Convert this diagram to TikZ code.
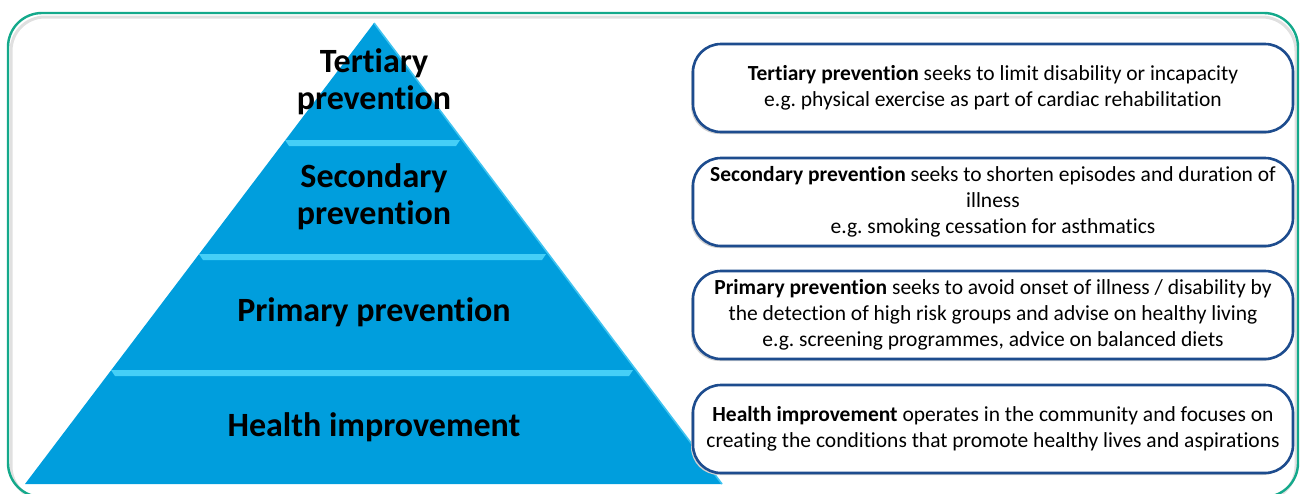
\documentclass[tikz,border=0pt]{standalone}
\usepackage{fontspec}
\setmainfont{Carlito}[Ligatures=NoCommon]
\usetikzlibrary{positioning}
\frenchspacing
\definecolor{framegreen}{HTML}{14A98B}
\definecolor{pyrblue}{HTML}{009EDD}
\definecolor{seplight}{HTML}{45CFF7}
\definecolor{edgelight}{HTML}{3FC3F0}
\definecolor{boxnavy}{HTML}{1D4C8E}
\tikzset{
  level/.style={font=\bfseries\fontsize{34}{37}\selectfont, align=center, text=black},
  infobox/.style={draw=boxnavy, line width=2.6pt, fill=white, rounded corners=28pt,
    minimum width=600pt, minimum height=88pt, align=center,
    font=\fontsize{21.5}{26}\selectfont},
  boxshadow/.style={fill=black!18, rounded corners=28pt, minimum width=600pt, minimum height=88pt},
}
\begin{document}
\begin{tikzpicture}[x=1pt,y=-1pt]
\useasboundingbox (0,0) rectangle (1304,493);
% frame
\draw[black!12, line width=3pt, rounded corners=34pt] (11,17) rectangle (1296,500);
\draw[framegreen, line width=2.4pt, rounded corners=34pt] (8,13) rectangle (1298,497);
% pyramid
\coordinate (apex) at (374,23);
\coordinate (bl) at (25,484);
\coordinate (br) at (722,484);
\fill[pyrblue] (apex) -- (br) -- (bl) -- cycle;
\draw[edgelight, line width=1.6pt] (apex) -- (br);
% band separators
\foreach \yy/\xl/\xr in {143/283/465, 257/197/551, 373/109/638}{
  \fill[seplight] (\xl+2,\yy-3) -- (\xr-5,\yy-3) -- (\xr-9,\yy+3) -- (\xl+6,\yy+3) -- cycle;
}
% level labels
\node[level] (tert) at (374,82) {Tertiary\\prevention};
\node[level] (sec) at (374,197) {Secondary\\prevention};
\node[level] (prim) at (374,312) {Primary prevention};
\node[level] (health) at (374,427) {Health improvement};
% description boxes
\foreach \yy in {88, 202, 315, 429}{
  \node[boxshadow] at (991,\yy+2) {};
}
\node[infobox] (tertbox) at (993,88) {\textbf{Tertiary prevention} seeks to limit disability or incapacity\\e.g. physical exercise as part of cardiac rehabilitation};
\node[infobox] (secbox) at (993,202) {\textbf{Secondary prevention} seeks to shorten episodes and duration of\\illness\\e.g. smoking cessation for asthmatics};
\node[infobox] (primbox) at (993,315) {\textbf{Primary prevention} seeks to avoid onset of illness / disability by\\the detection of high risk groups and advise on healthy living\\e.g. screening programmes, advice on balanced diets};
\node[infobox] (healthbox) at (993,429) {\textbf{Health improvement} operates in the community and focuses on\\creating the conditions that promote healthy lives and aspirations};
\end{tikzpicture}
\end{document}
